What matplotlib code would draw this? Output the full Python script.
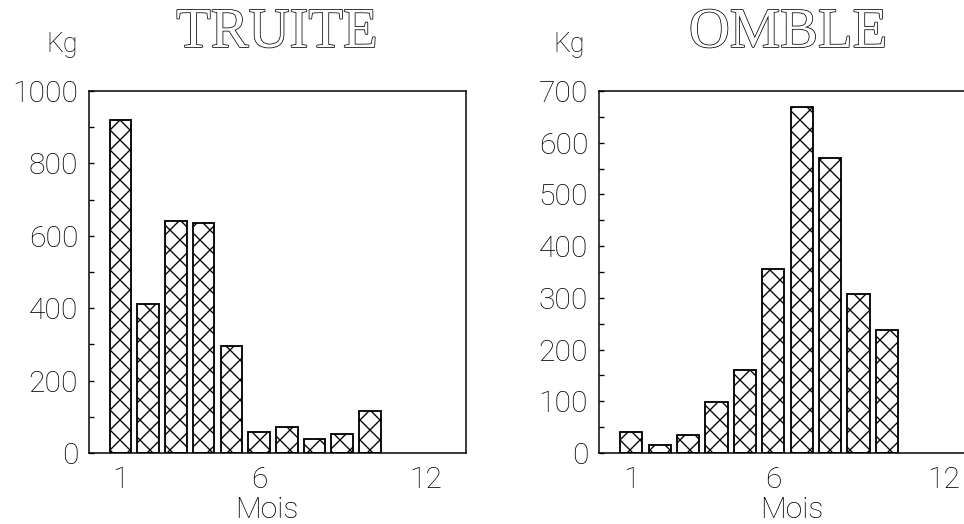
import matplotlib
matplotlib.use("Agg")
import matplotlib.pyplot as plt
import matplotlib.patheffects as pe
from matplotlib.ticker import MultipleLocator

months = list(range(1, 11))
truite_kg = [919, 412, 641, 636, 295, 58, 72, 40, 53, 115]
omble_kg = [40, 16, 35, 98, 161, 356, 670, 571, 308, 237]
xtick_vals = [1, 6, 12]

DPI = 120
plt.rcParams['hatch.linewidth'] = 0.8
plt.rcParams['hatch.color'] = 'black'
sans = ['Roboto', 'DejaVu Sans']

fig = plt.figure(figsize=(965 / DPI, 524 / DPI), dpi=DPI)
ax1 = fig.add_axes([0.0922, 0.1355, 0.3907, 0.6908])
ax2 = fig.add_axes([0.6207, 0.1355, 0.4005, 0.6908])

def style(ax, vals, ymax, major, minor):
    ax.bar(months, vals, width=0.78, color='white', edgecolor='black',
           linewidth=1.1, hatch='xx')
    ax.set_xlim(-0.14, 13.47)
    ax.set_ylim(0, ymax)
    ax.yaxis.set_major_locator(MultipleLocator(major))
    ax.yaxis.set_minor_locator(MultipleLocator(minor))
    ax.set_xticks(xtick_vals)
    ax.tick_params(axis='x', length=0, pad=8.0)
    ax.tick_params(axis='y', which='both', direction='in', length=3,
                   width=0.8, pad=6.5, left=True, right=False)
    for lab in ax.get_xticklabels() + ax.get_yticklabels():
        lab.set_fontfamily(sans)
        lab.set_fontweight('light')
        lab.set_fontsize(18)
    for sp in ax.spines.values():
        sp.set_linewidth(0.9)

style(ax1, truite_kg, 1000, 200, 100)
style(ax2, omble_kg, 700, 100, 50)

for x, t in [(0.287, 'TRUITE'), (0.8166, 'OMBLE')]:
    fig.text(x, 0.937, t, ha='center', va='center', fontsize=34,
             family='Liberation Serif', color='white',
             path_effects=[pe.withStroke(linewidth=0.9, foreground='black')])

for x in [0.0642, 0.5896]:
    fig.text(x, 0.916, 'Kg', ha='center', va='center', fontsize=16,
             family=sans, fontweight='light')

for x in [0.2767, 0.8207]:
    fig.text(x, 0.012, 'Mois', ha='center', va='baseline', fontsize=18,
             family=sans, fontweight='light')

fig.savefig('out.png', dpi=DPI)
